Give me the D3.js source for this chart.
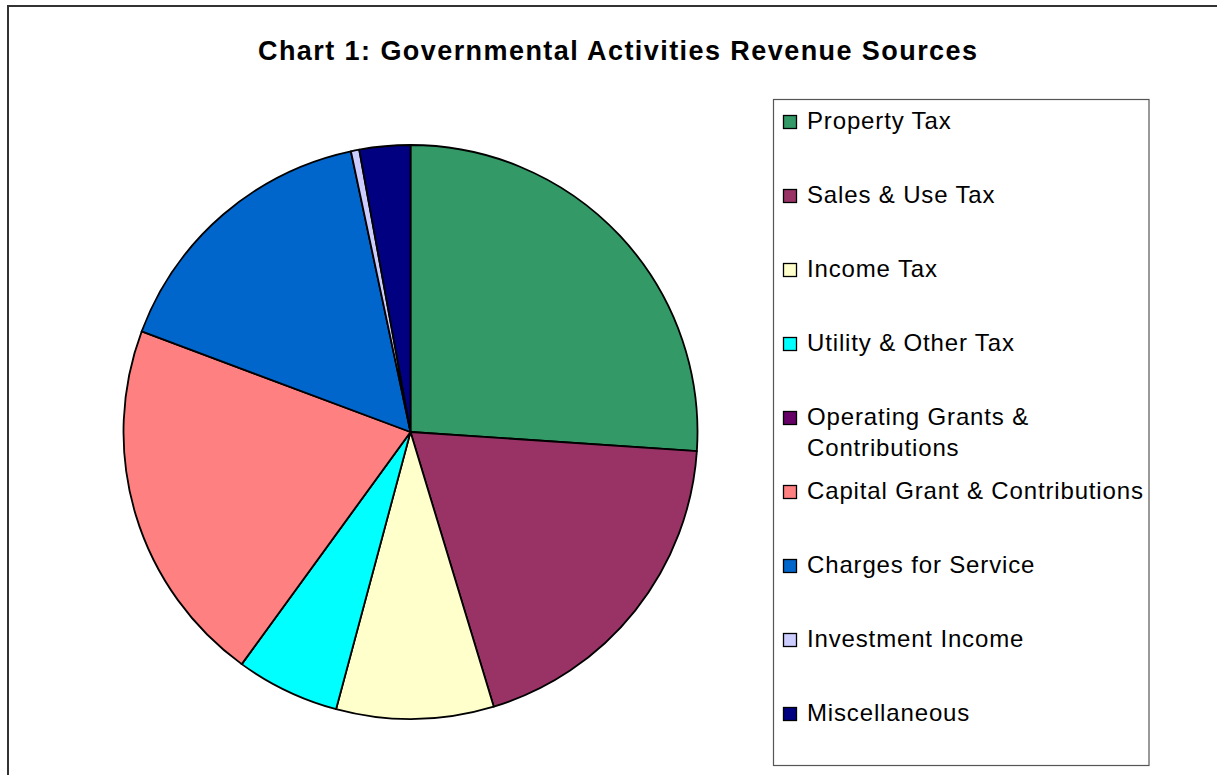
<!DOCTYPE html>
<html>
<head>
<meta charset="utf-8">
<script src="https://cdn.jsdelivr.net/npm/d3@7/dist/d3.min.js"></script>
<style>
html,body{margin:0;padding:0;background:#fff;}
svg{display:block;font-family:"Liberation Sans",Arial,sans-serif;}
</style>
</head>
<body>
<svg id="chart" width="1217" height="775"></svg>
<script>
const categories = ["Property Tax","Sales & Use Tax","Income Tax","Utility & Other Tax","Operating Grants & Contributions","Capital Grant & Contributions","Charges for Service","Investment Income","Miscellaneous"];
const legendLines = [["Property Tax"],["Sales & Use Tax"],["Income Tax"],["Utility & Other Tax"],["Operating Grants &","Contributions"],["Capital Grant & Contributions"],["Charges for Service"],["Investment Income"],["Miscellaneous"]];
const values = [26.06, 19.25, 8.86, 5.83, 0, 20.69, 15.97, 0.47, 2.86];
const colors = ["#339966","#993366","#FFFFCC","#00FFFF","#660066","#FF8080","#0066CC","#CCCCFF","#000080"];
const title = "Chart 1: Governmental Activities Revenue Sources";

const svg = d3.select("#chart");

// outer frame
svg.append("rect").attr("x",8).attr("y",6).attr("width",1260).attr("height",820)
  .attr("fill","#fff").attr("stroke","#333").attr("stroke-width",2);

svg.append("text").attr("x",258).attr("y",60)
  .attr("font-size",27).attr("font-weight","bold").attr("fill","#000")
  .attr("textLength",719).attr("lengthAdjust","spacing").text(title);

const cx = 410.5, cy = 432, r = 287;
const pie = d3.pie().sort(null).value(d=>d);
const arc = d3.arc().innerRadius(0).outerRadius(r);
const g = svg.append("g").attr("transform",`translate(${cx},${cy})`);
g.selectAll("path").data(pie(values)).join("path")
  .attr("d",arc).attr("fill",(d,i)=>colors[i])
  .attr("stroke","#000").attr("stroke-width",1.8).attr("stroke-linejoin","round");

// legend
const lg = svg.append("g");
lg.append("rect").attr("x",773.5).attr("y",99.5).attr("width",375.5).attr("height",666)
  .attr("fill","#fff").attr("stroke","#555").attr("stroke-width",1.2);
const y0 = 129, step = 74;
categories.forEach((c,i)=>{
  const by = y0 + i*step;
  lg.append("rect").attr("x",783.5).attr("y",by-13.5).attr("width",13).attr("height",13)
    .attr("fill",colors[i]).attr("stroke","#000").attr("stroke-width",1.3);
  const t = lg.append("text").attr("x",807).attr("y",by).attr("font-size",24)
    .attr("letter-spacing",0.85).attr("fill","#000");
  legendLines[i].forEach((ln,k)=>{
    t.append("tspan").attr("x",807).attr("y",by + k*30.5).text(ln);
  });
});
</script>
</body>
</html>
